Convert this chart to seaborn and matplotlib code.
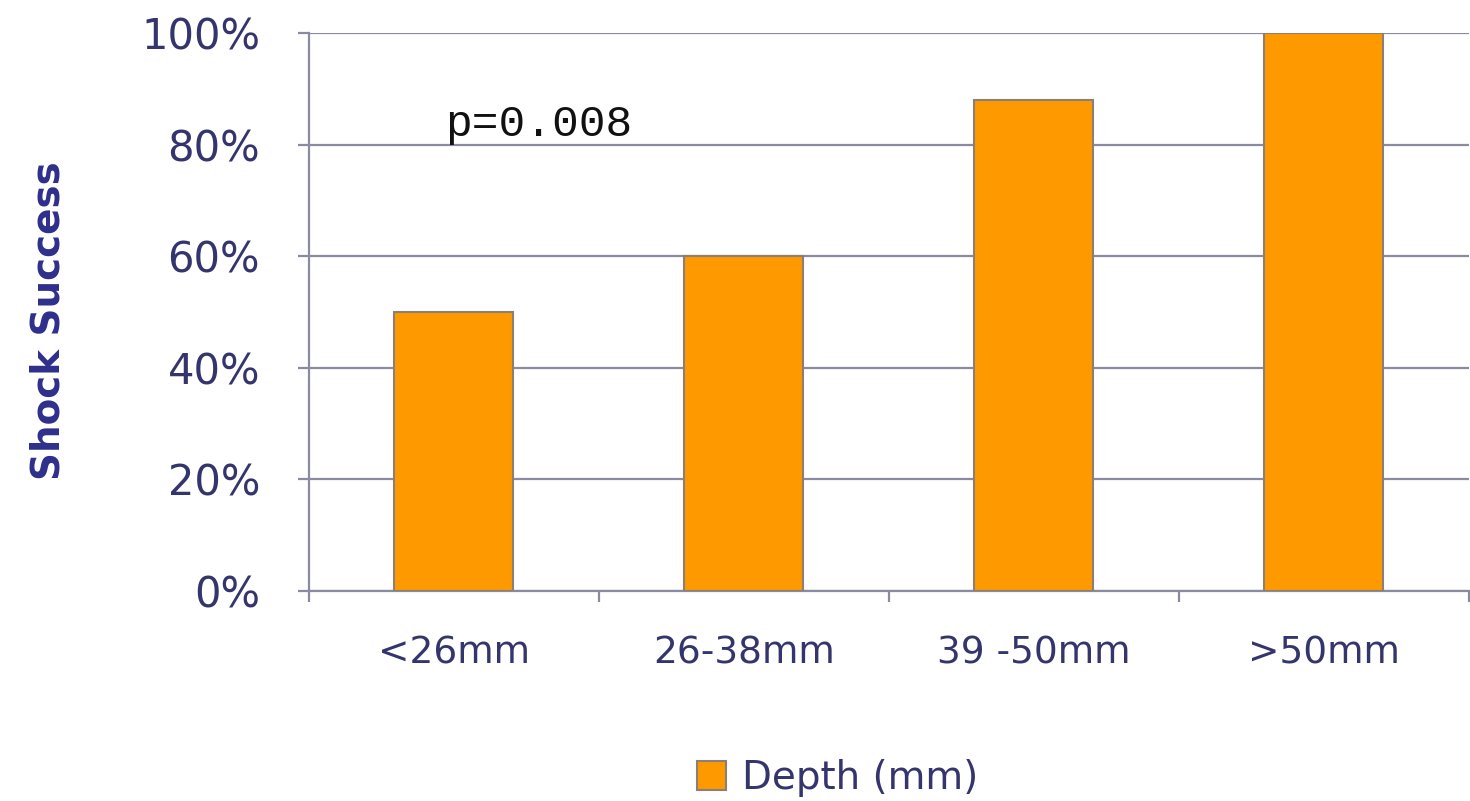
import matplotlib
matplotlib.use("Agg")
import matplotlib.pyplot as plt
from matplotlib.ticker import PercentFormatter, FixedLocator
import seaborn as sns
import pandas as pd

categories = ["<26mm", "26-38mm", "39 -50mm", ">50mm"]
success = [0.50, 0.60, 0.88, 1.00]
series_name = "Depth (mm)"
y_ticks = [0.0, 0.2, 0.4, 0.6, 0.8, 1.0]
annotation = "p=0.008"

df = pd.DataFrame({"Depth": categories, "Success": success, "Series": series_name})

sns.set_theme(style="white")
plt.rcParams["font.family"] = ["DejaVu Sans"]

text_color = "#35356e"
grid_color = "#8a8aa0"

fig = plt.figure(figsize=(14.7, 8.01), dpi=100)
ax = fig.add_axes([0.210, 0.262, 0.789, 0.697])

sns.barplot(data=df, x="Depth", y="Success", hue="Series",
            palette=["#FF9900"], saturation=1, width=0.41,
            edgecolor="#8a8078", linewidth=1.5, ax=ax, zorder=3)

ax.set_xlim(-0.5, 3.5)
ax.set_ylim(0, 1.0)
ax.set_yticks(y_ticks)
ax.yaxis.set_major_formatter(PercentFormatter(1.0, decimals=0))
ax.grid(axis="y", color=grid_color, linewidth=1.6, zorder=0)
ax.grid(axis="x", visible=False)

for side in ["top", "right"]:
    ax.spines[side].set_visible(False)
for side in ["left", "bottom"]:
    ax.spines[side].set_color(grid_color)
    ax.spines[side].set_linewidth(1.6)

ax.tick_params(axis="y", length=8, width=1.6, color=grid_color, pad=27,
               labelsize=30, labelcolor=text_color, left=True)
ax.tick_params(axis="x", which="major", length=0, pad=32,
               labelsize=27, labelcolor=text_color)
ax.xaxis.set_minor_locator(FixedLocator([-0.5, 0.5, 1.5, 2.5, 3.5]))
ax.tick_params(axis="x", which="minor", length=8, width=1.6,
               color=grid_color, bottom=True)

ax.set_xlabel("")
ax.set_ylabel("Shock Success", fontsize=28, fontweight="bold", color="#2e2e8c")
ax.yaxis.set_label_coords(-0.208, 0.485)

ax.text(-0.03, 0.815, annotation, fontsize=32, family="Liberation Mono",
        color="#111111", va="baseline", zorder=4)

handles, labels = ax.get_legend_handles_labels()
leg = ax.legend(handles, labels, loc="center", bbox_to_anchor=(0.456, -0.335),
                frameon=False, fontsize=28, handlelength=0.75, handleheight=0.75,
                handletextpad=0.4)
for t in leg.get_texts():
    t.set_color(text_color)

fig.savefig("out.png", dpi=100, facecolor="white")
